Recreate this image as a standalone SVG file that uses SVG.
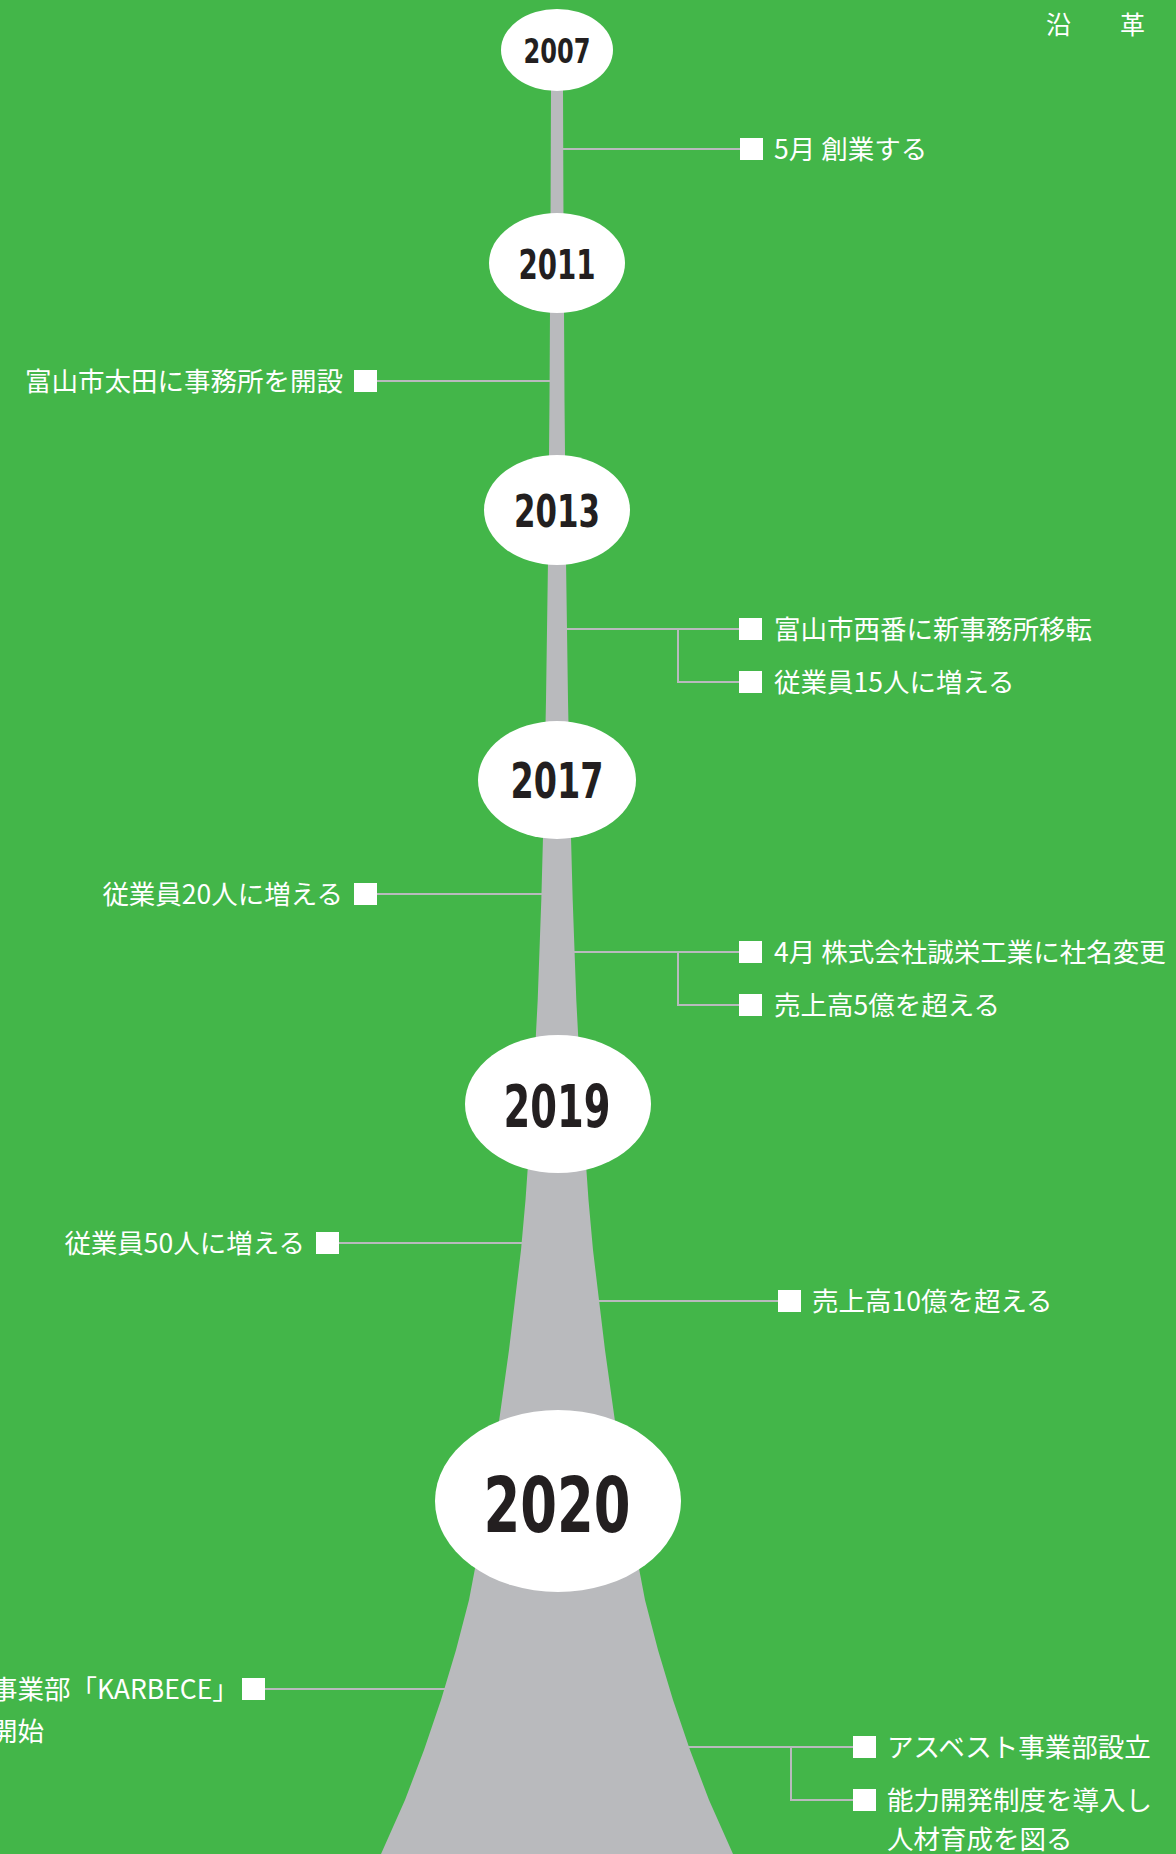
<svg xmlns="http://www.w3.org/2000/svg" width="1176" height="1854" viewBox="0 0 1176 1854">
<style>
.bg{fill:#43b649}
.stem{fill:#b9babd}
.con{stroke:#b9babd;stroke-width:2;fill:none}
.yr{fill:#fff}
.yt{font-family:"Liberation Sans Narrow","DejaVu Sans Condensed","Liberation Sans",sans-serif;font-weight:bold;fill:#231f20;text-anchor:middle}
.sq{fill:#fff}
.ev{font-family:"Noto Sans CJK JP",sans-serif;font-size:26.5px;fill:#fff}
.end{text-anchor:end}
</style>
<rect class="bg" x="0" y="0" width="1176" height="1854"/>
<text class="ev" x="1046" y="34" style="font-size:25px">沿<tspan dx="49">革</tspan></text>
<path class="stem" d="M562.9,60 L563.4,200 L564.5,400 L566,560 L568,700 L570,800 L572.7,900 L576.3,1000 L581.5,1100 L588.5,1200 L593,1250 L599,1300 L605,1350 L612,1400 L619,1450 L627,1500 L635.5,1550 L645,1600 L658,1650 L673,1700 L690,1750 L709,1800 L733,1854 L736,1860 L378,1860 L381,1854 L405,1800 L424,1750 L441,1700 L456,1650 L469,1600 L478.5,1550 L487,1500 L495,1450 L502,1400 L509,1350 L515,1300 L521,1250 L525.5,1200 L532.5,1100 L537.7,1000 L541.3,900 L544,800 L546,700 L548,560 L549.5,400 L550.6,200 L551.1,60 Z"/>
<g id="connectors">
<path class="con" d="M557,149 H740"/>
<path class="con" d="M377,381 H557"/>
<path class="con" d="M557,629 H739 M678,629 V682 H739"/>
<path class="con" d="M377,894 H557"/>
<path class="con" d="M557,952 H739 M678,952 V1005 H739"/>
<path class="con" d="M339,1243 H557"/>
<path class="con" d="M557,1301 H778"/>
<path class="con" d="M265,1689 H557"/>
<path class="con" d="M557,1747 H853 M791,1747 V1800 H853"/>
</g>
<g id="y2007"><ellipse class="yr" cx="557" cy="50" rx="56" ry="41"/><text class="yt" x="557" y="63" font-size="33" textLength="67" lengthAdjust="spacingAndGlyphs">2007</text></g>
<g id="y2011"><ellipse class="yr" cx="557" cy="263" rx="68" ry="50"/><text class="yt" x="557" y="279" font-size="40" textLength="77" lengthAdjust="spacingAndGlyphs">2011</text></g>
<g id="y2013"><ellipse class="yr" cx="557" cy="510" rx="73" ry="55"/><text class="yt" x="557" y="527" font-size="45" textLength="86" lengthAdjust="spacingAndGlyphs">2013</text></g>
<g id="y2017"><ellipse class="yr" cx="557" cy="780" rx="79" ry="59"/><text class="yt" x="557" y="798" font-size="49" textLength="93" lengthAdjust="spacingAndGlyphs">2017</text></g>
<g id="y2019"><ellipse class="yr" cx="558" cy="1104" rx="93" ry="69"/><text class="yt" x="557" y="1127" font-size="58" textLength="107" lengthAdjust="spacingAndGlyphs">2019</text></g>
<g id="y2020"><ellipse class="yr" cx="558" cy="1501" rx="123" ry="91"/><text class="yt" x="557" y="1532" font-size="76" textLength="147" lengthAdjust="spacingAndGlyphs">2020</text></g>
<g id="e1"><rect class="sq" x="740" y="138" width="23" height="22"/><text class="ev" x="774" y="159">5月 創業する</text></g>
<g id="e2"><rect class="sq" x="354" y="370" width="23" height="22"/><text class="ev end" x="343" y="391">富山市太田に事務所を開設</text></g>
<g id="e3"><rect class="sq" x="739" y="618" width="23" height="22"/><text class="ev" x="774" y="639">富山市西番に新事務所移転</text><rect class="sq" x="739" y="671" width="23" height="22"/><text class="ev" x="774" y="692">従業員15人に増える</text></g>
<g id="e4"><rect class="sq" x="354" y="883" width="23" height="22"/><text class="ev end" x="343" y="904">従業員20人に増える</text></g>
<g id="e5"><rect class="sq" x="739" y="941" width="23" height="22"/><text class="ev" x="774" y="962">4月 株式会社誠栄工業に社名変更</text><rect class="sq" x="739" y="994" width="23" height="22"/><text class="ev" x="774" y="1015">売上高5億を超える</text></g>
<g id="e6"><rect class="sq" x="316" y="1232" width="23" height="22"/><text class="ev end" x="305" y="1253">従業員50人に増える</text></g>
<g id="e7"><rect class="sq" x="778" y="1290" width="23" height="22"/><text class="ev" x="812" y="1311">売上高10億を超える</text></g>
<g id="e8"><rect class="sq" x="242" y="1678" width="23" height="22"/><text class="ev" x="-9" y="1699">事業部「KARBECE」</text><text class="ev" x="-9" y="1741">開始</text></g>
<g id="e9"><rect class="sq" x="853" y="1736" width="23" height="22"/><text class="ev" x="887" y="1757">アスベスト事業部設立</text><rect class="sq" x="853" y="1789" width="23" height="22"/><text class="ev" x="887" y="1810">能力開発制度を導入し</text><text class="ev" x="887" y="1849">人材育成を図る</text></g>
</svg>
